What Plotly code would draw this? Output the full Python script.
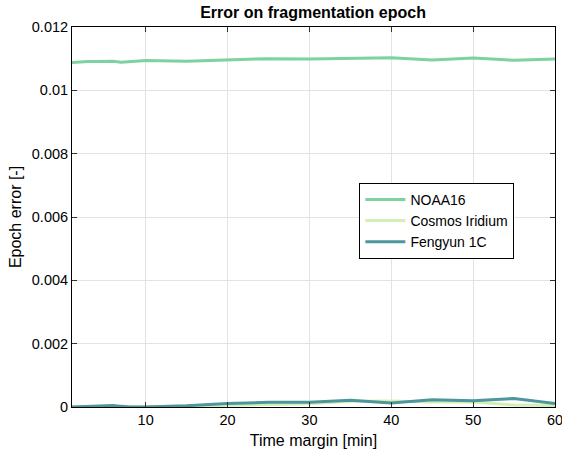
import plotly.graph_objects as go

t = [1, 2, 3, 4, 5, 6, 7, 8, 10, 15, 20, 25, 30, 35, 40, 45, 50, 55, 60]
noaa16 = [0.01088, 0.01090, 0.01091, 0.01091, 0.01091, 0.01092, 0.01089, 0.01090, 0.01094, 0.01092,
          0.01097, 0.01100, 0.01099, 0.01102, 0.01103, 0.01096, 0.01102, 0.01095, 0.01099]
cosmos = [0.0, 0.0, 0.00001, 0.00001, 0.00002, 0.00003, 0.00002, 0.00001, 0.00001, 0.00003,
          0.00005, 0.00008, 0.00010, 0.00018, 0.00019, 0.00016, 0.00016, 0.00006, 0.00005]
fengyun = [0.0, 0.00001, 0.00001, 0.00002, 0.00003, 0.00005, 0.00002, 0.0, 0.0, 0.00004,
           0.00011, 0.00015, 0.00015, 0.00021, 0.00013, 0.00023, 0.00020, 0.00027, 0.00011]

names = ["NOAA16", "Cosmos Iridium", "Fengyun 1C"]
colors = ["#7dd3a0", "#d3eeb8", "#4c969c"]
series = [noaa16, cosmos, fengyun]

fig = go.Figure()
for n, c, s in zip(names, colors, series):
    fig.add_trace(go.Scatter(x=t, y=s, mode="lines", name=n, line=dict(color=c, width=3)))

axis_common = dict(showline=True, linecolor="black", linewidth=1, mirror="ticks",
                   ticks="inside", ticklen=5, tickcolor="#333", showgrid=True,
                   gridcolor="#e3e3e3", gridwidth=1, zeroline=False,
                   ticklabeloverflow="allow", automargin=False,
                   tickfont=dict(size=14.5, color="black"))

fig.update_layout(
    width=562, height=460,
    margin=dict(l=72, r=7, t=27, b=53),
    paper_bgcolor="white", plot_bgcolor="white",
    font=dict(family="Liberation Sans, Arial, sans-serif", color="black"),
    title=dict(text="<b>Error on fragmentation epoch</b>", x=0.557, xanchor="center",
               y=0.974, yanchor="middle", font=dict(size=16)),
    xaxis=dict(range=[1, 60], tickvals=[10, 20, 30, 40, 50, 60],
               title=dict(text="Time margin [min]", font=dict(size=16), standoff=7), **axis_common),
    yaxis=dict(range=[0, 0.012], tickvals=[0, 0.002, 0.004, 0.006, 0.008, 0.01, 0.012],
               ticktext=["0", "0.002", "0.004", "0.006", "0.008", "0.01", "0.012"],
               title=dict(text="Epoch error [-]", font=dict(size=16), standoff=6), **axis_common),
    legend=dict(x=0.595, y=0.59, xanchor="left", yanchor="top",
                bgcolor="white", bordercolor="black", borderwidth=1,
                font=dict(size=14), tracegroupgap=0, itemwidth=40),
    showlegend=True,
)

fig.write_html("out.html")
